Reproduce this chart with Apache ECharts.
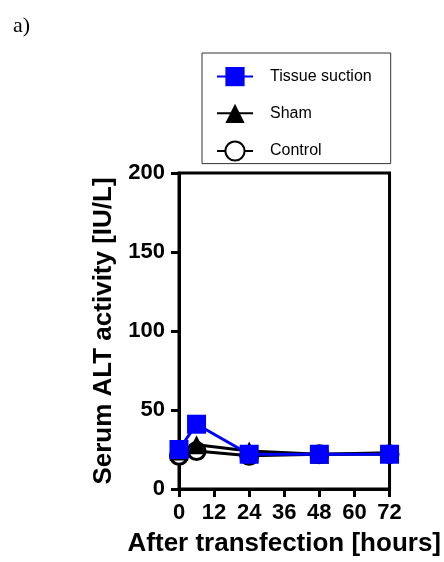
<!DOCTYPE html>
<html>
<head>
<meta charset="utf-8">
<script src="https://cdn.jsdelivr.net/npm/echarts@6/dist/echarts.min.js"></script>
<style>html,body{margin:0;padding:0;background:#fff;}#c{width:444px;height:562px;}</style>
</head>
<body>
<div id="c"></div>
<script>
var seriesNames = ['Tissue suction', 'Sham', 'Control'];
var hours = [0, 6, 24, 48, 72];
var tissueSuction = [25, 41, 22, 22, 22];
var sham = [24, 28, 24, 22, 23];
var control = [21, 24, 21, 22, 22];
var xTicks = [0, 12, 24, 36, 48, 60, 72];
var yTicks = [0, 50, 100, 150, 200];

function pairs(vals) { return hours.map(function (h, i) { return [h, vals[i]]; }); }

var font = 'Liberation Sans, Arial, sans-serif';
var chart = echarts.init(document.getElementById('c'), null, { renderer: 'canvas' });
chart.setOption({
  animation: false,
  backgroundColor: '#fff',
  title: {
    text: 'a)', left: 8, top: 10,
    textStyle: { fontFamily: 'Liberation Serif, Times New Roman, serif', fontWeight: 'normal', fontSize: 22, color: '#000' }
  },
  grid: { left: 179, right: 53, top: 173, bottom: 69, show: true, borderColor: '#000', borderWidth: 3, backgroundColor: 'transparent' },
  legend: {
    data: seriesNames, orient: 'vertical', left: 202, top: 53,
    itemWidth: 36, itemHeight: 24, itemGap: 17.5,
    padding: [14, 19, 2, 14],
    borderColor: '#333', borderWidth: 1,
    textStyle: { fontFamily: font, fontSize: 16, color: '#000', padding: [0, 0, 0, 12] }
  },
  xAxis: {
    type: 'value', min: xTicks[0], max: xTicks[xTicks.length - 1], interval: 12,
    name: 'After transfection [hours]', nameLocation: 'middle', nameGap: 42,
    nameTextStyle: { fontFamily: font, fontWeight: 'bold', fontSize: 26, color: '#000' },
    axisLine: { show: true, lineStyle: { color: '#000', width: 3 } },
    axisTick: { show: true, length: 8, lineStyle: { color: '#000', width: 3 } },
    axisLabel: { margin: 13, fontFamily: font, fontWeight: 'bold', fontSize: 22, color: '#000',
      customValues: xTicks },
    splitLine: { show: false }
  },
  yAxis: {
    type: 'value', min: yTicks[0], max: yTicks[yTicks.length - 1], interval: 50,
    name: 'Serum ALT activity [IU/L]', nameLocation: 'middle', nameGap: 62,
    nameTextStyle: { fontFamily: font, fontWeight: 'bold', fontSize: 26, color: '#000' },
    axisLine: { show: true, lineStyle: { color: '#000', width: 3 } },
    axisTick: { show: true, length: 8, lineStyle: { color: '#000', width: 3 } },
    axisLabel: { margin: 14, fontFamily: font, fontWeight: 'bold', fontSize: 22, color: '#000' },
    splitLine: { show: false }
  },
  series: [
    {
      name: 'Control', type: 'line', data: pairs(control),
      symbol: 'circle', symbolSize: 17,
      lineStyle: { color: '#000', width: 3 },
      itemStyle: { color: '#fff', borderColor: '#000', borderWidth: 3 }
    },
    {
      name: 'Sham', type: 'line', data: pairs(sham),
      symbol: 'triangle', symbolSize: 19,
      lineStyle: { color: '#000', width: 3 },
      itemStyle: { color: '#000' }
    },
    {
      name: 'Tissue suction', type: 'line', data: pairs(tissueSuction),
      symbol: 'rect', symbolSize: 19,
      lineStyle: { color: '#0000ff', width: 3 },
      itemStyle: { color: '#0000ff' }
    }
  ]
});
</script>
</body>
</html>
